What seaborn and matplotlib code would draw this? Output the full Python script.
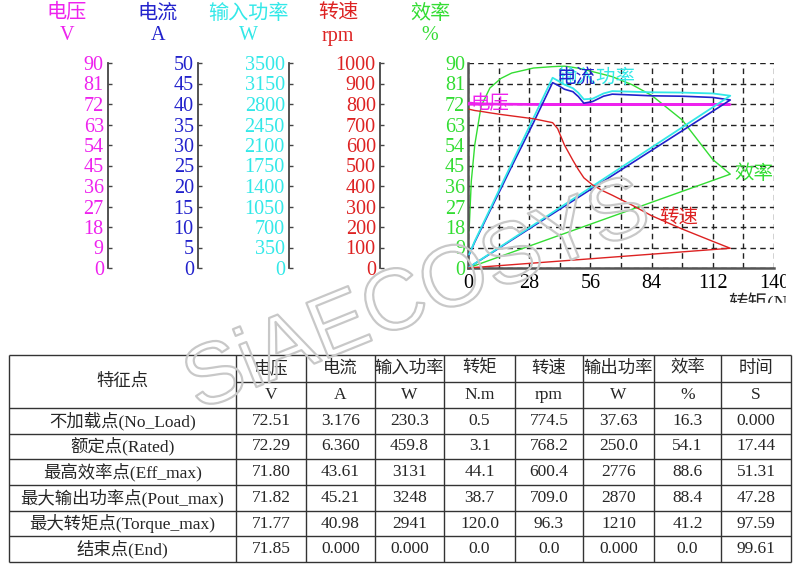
import matplotlib
matplotlib.use('Agg')
import matplotlib.pyplot as plt
import matplotlib.patheffects as pe
from matplotlib.patches import Rectangle
import seaborn as sns

sns.set_style('white')
plt.rcParams['font.family'] = ['Liberation Serif', 'Noto Sans CJK SC']
plt.rcParams['axes.unicode_minus'] = False

# torque sweep (N.m), last point is the end point back at zero
torque = [0.5, 1.5, 3.1, 6, 10, 15, 20, 30, 38.7, 41, 44.1, 48, 50.5, 53, 57,
          62, 66, 75, 84, 98, 112, 120, 0.0]
voltage = [72.51, 72.45, 72.29, 72.2, 72.1, 72.05, 72.0, 71.9, 71.82, 71.81, 71.80,
           71.80, 71.79, 71.79, 71.79, 71.78, 71.78, 71.78, 71.78, 71.77, 71.77, 71.77, 71.85]
current = [3.176, 4.4, 6.36, 9.5, 13.9, 19.3, 24.8, 35.5, 45.21, 44.6, 43.61, 43.0,
           41.8, 40.2, 40.6, 41.9, 42.4, 42.2, 42.0, 41.9, 41.6, 40.98, 0.0]
power = [230.3, 320, 459.8, 687, 1000, 1392, 1783, 2566, 3248, 3200, 3131, 3070,
         2990, 2880, 2890, 2980, 3020, 3010, 3000, 2995, 2980, 2941, 0.0]
speed = [774.5, 772, 768.2, 764, 757, 749, 742, 728, 709, 680, 600.4, 525, 480,
         440, 405, 375, 355, 307, 255, 190, 130, 96.3, 0.0]
efficiency = [16.3, 38, 54.1, 71, 79, 83.2, 85.6, 87.8, 88.4, 88.5, 88.6, 88.1, 87.7,
              87.2, 86.2, 85.0, 84.0, 80.5, 75.8, 65.0, 47.6, 41.2, 0.0]

# table
table_head = ['电压', '电流', '输入功率', '转矩', '转速', '输出功率', '效率', '时间']
table_units = ['V', 'A', 'W', 'N.m', 'rpm', 'W', '%', 'S']
row_names = ['不加载点(No_Load)', '额定点(Rated)', '最高效率点(Eff_max)',
             '最大输出功率点(Pout_max)', '最大转矩点(Torque_max)', '结束点(End)']
col_volt = ['72.51', '72.29', '71.80', '71.82', '71.77', '71.85']
col_amp = ['3.176', '6.360', '43.61', '45.21', '40.98', '0.000']
col_pin = ['230.3', '459.8', '3131', '3248', '2941', '0.000']
col_torque = ['0.5', '3.1', '44.1', '38.7', '120.0', '0.0']
col_speed = ['774.5', '768.2', '600.4', '709.0', '96.3', '0.0']
col_pout = ['37.63', '250.0', '2776', '2870', '1210', '0.000']
col_eff = ['16.3', '54.1', '88.6', '88.4', '41.2', '0.0']
col_time = ['0.000', '17.44', '51.31', '47.28', '97.59', '99.61']

C_V = '#ee22ee'
C_A = '#2222cc'
C_P = '#33e8e8'
C_N = '#dd2222'
C_E = '#33dd33'
GRAY = '#444444'

fig = plt.figure(figsize=(8, 5.7), dpi=100)
ax = fig.add_axes([468 / 800, 1 - 268 / 570, 306 / 800, 205 / 570])

# efficiency on the main axis
sns.lineplot(x=torque, y=efficiency, ax=ax, sort=False, estimator=None,
             color=C_E, linewidth=1.0, legend=False)
ax.set_xlim(0, 140)
ax.set_ylim(0, 90)
ax.set_xticks(range(0, 141, 28))
ax.set_xticks(range(14, 141, 28), minor=True)
ax.set_yticks(range(0, 91, 9))
ax.grid(True, which='both', color='#222222', linestyle=(0, (4, 3)), linewidth=1.0)
ax.tick_params(axis='x', which='both', length=0, pad=4, labelsize=14.5, labelcolor='black')
ax.tick_params(axis='y', length=0, pad=2, labelsize=14.5, labelcolor=C_E)
for s in ['top', 'right']:
    ax.spines[s].set_visible(False)
for s in ['left', 'bottom']:
    ax.spines[s].set_color('#555555')
    ax.spines[s].set_linewidth(1.8)
ax.set_xlabel('')
ax.set_ylabel('')

side = [
    (voltage, (0, 90), range(0, 91, 9), C_V, 108, 1.6),
    (current, (0, 50), range(0, 51, 5), C_A, 198, 1.2),
    (power, (0, 3500), range(0, 3501, 350), C_P, 289, 1.3),
    (speed, (0, 1000), range(0, 1001, 100), C_N, 380, 1.0),
]
for vals, lim, ticks, col, spx, lw in side:
    tw = ax.twinx()
    sns.lineplot(x=torque, y=vals, ax=tw, sort=False, estimator=None,
                 color=col, linewidth=lw, legend=False)
    tw.set_ylim(*lim)
    tw.set_yticks(list(ticks))
    tw.yaxis.tick_left()
    for s in ['top', 'right', 'bottom']:
        tw.spines[s].set_visible(False)
    tw.spines['left'].set_position(('axes', (spx - 468) / 306))
    tw.spines['left'].set_color(GRAY)
    tw.spines['left'].set_linewidth(1.3)
    tw.tick_params(axis='y', direction='in', length=3, width=1, color=GRAY,
                   pad=3, labelsize=14.5, labelcolor=col)
    tw.set_ylabel('')

# inline curve labels
ax.text(1.0, 72, '电压', color=C_V, fontsize=14, va='center', clip_on=False)
ax.text(40.6, 83.4, '输入功率', color=C_P, fontsize=14, va='center', clip_on=False)
ax.text(40.6, 83.4, '电流', color=C_A, fontsize=14, va='center', clip_on=False)
ax.text(122, 41.3, '效率', color=C_E, fontsize=14, va='center', clip_on=False)
ax.text(87.7, 22, '转速', color=C_N, fontsize=14, va='center', clip_on=False)

# overlay in pixel coordinates for headers, table and watermark
ov = fig.add_axes([0, 0, 1, 1])
ov.set_xlim(0, 800)
ov.set_ylim(570, 0)
ov.axis('off')

heads = [('电压', 'V', C_V, 67), ('电流', 'A', C_A, 158), ('输入功率', 'W', C_P, 248),
         ('转速', 'rpm', C_N, 338), ('效率', '%', C_E, 430)]
for name, unit, col, cx in heads:
    ov.text(cx, 14, name, color=col, fontsize=14.5, ha='center', va='center')
    ov.text(cx, 36, unit, color=col, fontsize=14.5, ha='center', va='center')

# x axis title, cut off like the source image
ov.text(728, 292, '转矩(N.m)', fontsize=14, ha='left', va='top')
ov.add_patch(Rectangle((700, 303), 100, 45, color='white', zorder=5))
ov.add_patch(Rectangle((786, 262), 14, 42, color='white', zorder=5))

# table grid
xs = [9, 236, 306, 375, 444, 515, 583, 654, 721, 791]
ys = [355, 408, 434, 459, 485, 511, 536, 562]
lc = '#333333'
ov.hlines(ys, xs[0], xs[-1], colors=lc, linewidth=1.0)
ov.hlines(382, xs[1], xs[-1], colors=lc, linewidth=1.0)
ov.vlines(xs, ys[0], ys[-1], colors=lc, linewidth=1.0)

cx = [(a + b) / 2 for a, b in zip(xs[:-1], xs[1:])]
ov.text(cx[0], 381.5, '特征点', fontsize=12.5, ha='center', va='center')
for i, (h, u) in enumerate(zip(table_head, table_units)):
    ov.text(cx[i + 1], 368.5, h, fontsize=12.5, ha='center', va='center')
    ov.text(cx[i + 1], 395, u, fontsize=12.5, ha='center', va='center')
cols = [row_names, col_volt, col_amp, col_pin, col_torque, col_speed, col_pout, col_eff, col_time]
for j, column in enumerate(cols):
    for r, val in enumerate(column):
        cy = (ys[r + 1] + ys[r + 2]) / 2
        ov.text(cx[j], cy, val, fontsize=12.5, ha='center', va='center')

# watermark
ov.text(418, 298, 'SiAECOSYS', family='Liberation Sans', fontsize=62, rotation=22,
        ha='center', va='center', color=(1, 1, 1, 0), zorder=6,
        path_effects=[pe.Stroke(linewidth=1.6, foreground='#c8c8c8')])

fig.savefig('out.png', dpi=100, facecolor='white')
